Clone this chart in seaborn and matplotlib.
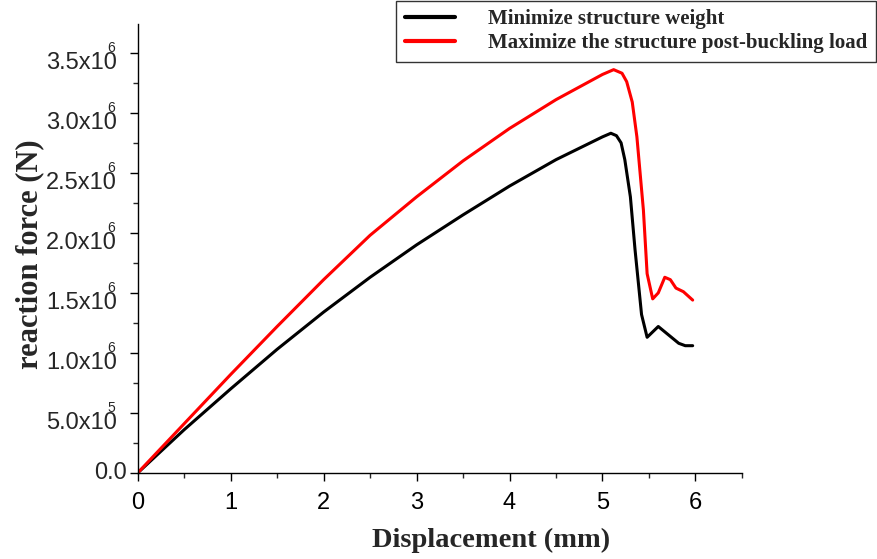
import numpy as np
import pandas as pd
import seaborn as sns
import matplotlib
matplotlib.use("Agg")
import matplotlib.pyplot as plt
from matplotlib.ticker import MultipleLocator, NullFormatter

# displacement (mm) and reaction force (x1e6 N)
weight_x = [0, 0.5, 1.0, 1.5, 2.0, 2.5, 3.0, 3.5, 4.0, 4.5, 5.0, 5.09,
            5.15, 5.20, 5.24, 5.30, 5.35, 5.42, 5.48, 5.60, 5.71, 5.82, 5.89, 5.97]
weight_y = [0, 0.36, 0.70, 1.03, 1.34, 1.63, 1.90, 2.15, 2.39, 2.61, 2.80, 2.83,
            2.81, 2.75, 2.61, 2.30, 1.86, 1.32, 1.13, 1.22, 1.15, 1.08, 1.06, 1.06]

buckling_x = [0, 0.5, 1.0, 1.5, 2.0, 2.5, 3.0, 3.5, 4.0, 4.5, 5.0, 5.12,
              5.21, 5.26, 5.32, 5.37, 5.44, 5.48, 5.54, 5.60, 5.67, 5.73, 5.79, 5.87, 5.97]
buckling_y = [0, 0.41, 0.82, 1.22, 1.61, 1.98, 2.30, 2.60, 2.87, 3.11, 3.32, 3.36,
              3.33, 3.26, 3.09, 2.80, 2.19, 1.66, 1.45, 1.50, 1.63, 1.61, 1.54, 1.51, 1.44]

y_ticks = [0, 0.5e6, 1.0e6, 1.5e6, 2.0e6, 2.5e6, 3.0e6, 3.5e6]

labels = ["Minimize structure weight", "Maximize the structure post-buckling load"]
colors = ["black", "red"]

sns.set_style("ticks")
plt.rcParams["font.family"] = ["Liberation Sans", "DejaVu Sans"]

df = pd.concat([
    pd.DataFrame({"x": weight_x, "y": np.array(weight_y) * 1e6, "series": labels[0]}),
    pd.DataFrame({"x": buckling_x, "y": np.array(buckling_y) * 1e6, "series": labels[1]}),
])

fig = plt.figure(figsize=(8.77, 5.59), dpi=100)
ax = fig.add_axes([0.157, 0.154, 0.689, 0.803])

sns.lineplot(data=df, x="x", y="y", hue="series", palette=colors, sort=False,
             linewidth=2.2, ax=ax, legend=False)

ax.set_xlim(0, 6.5)
ax.set_ylim(0, 3.74e6)
ax.xaxis.set_major_locator(MultipleLocator(1))
ax.xaxis.set_minor_locator(MultipleLocator(0.5))
ax.set_yticks(y_ticks)
ax.yaxis.set_major_formatter(NullFormatter())
ax.yaxis.set_minor_locator(MultipleLocator(0.25e6))

ax.tick_params(which="major", direction="out", length=6, width=1, labelsize=17,
               colors="black")
ax.tick_params(axis="x", which="major", pad=7.5)
ax.tick_params(which="minor", direction="out", length=3.5, width=1)
sns.despine(ax=ax)
for s in ["left", "bottom"]:
    ax.spines[s].set_linewidth(1)
    ax.spines[s].set_color("black")

# y tick labels in the "3.5x10^6" style, superscript sitting above the last digit
ytrans = ax.get_yaxis_transform()
for v in y_ticks:
    if v == 0:
        ax.annotate("0.0", (0, v), xycoords=ytrans, xytext=(-7.5, 0),
                    textcoords="offset points", ha="right", va="center", fontsize=17)
        continue
    e = int(np.floor(np.log10(v)))
    m = v / 10 ** e
    ax.annotate(f"{m:.1f}x10", (0, v), xycoords=ytrans, xytext=(-15, -7),
                textcoords="offset points", ha="right", va="center", fontsize=17)
    ax.annotate(str(e), (0, v), xycoords=ytrans, xytext=(-16.5, 3.5),
                textcoords="offset points", ha="right", va="center", fontsize=10)

ax.set_xlabel("Displacement (mm)", family="Liberation Serif", fontweight="bold", fontsize=20.5)
ax.set_ylabel("reaction force (N)", family="Liberation Serif", fontweight="bold", fontsize=22)
ax.xaxis.set_label_coords(0.585, -0.122)
ax.yaxis.set_label_coords(-0.155, 0.487)

handles = [plt.Line2D([], [], color=c, linewidth=3) for c in colors]
leg = fig.legend(handles, labels, loc="upper left",
                 bbox_to_anchor=(396 / 877, 0.0, 480 / 877, 0.999), mode="expand",
                 borderaxespad=0, frameon=True, fancybox=False, handlelength=2.4,
                 handletextpad=1.6, borderpad=0.42, labelspacing=0.2,
                 prop={"family": "Liberation Serif", "weight": "bold", "size": 15})
leg.get_frame().set_edgecolor("black")
leg.get_frame().set_linewidth(1)

fig.savefig("out.png", dpi=100)
